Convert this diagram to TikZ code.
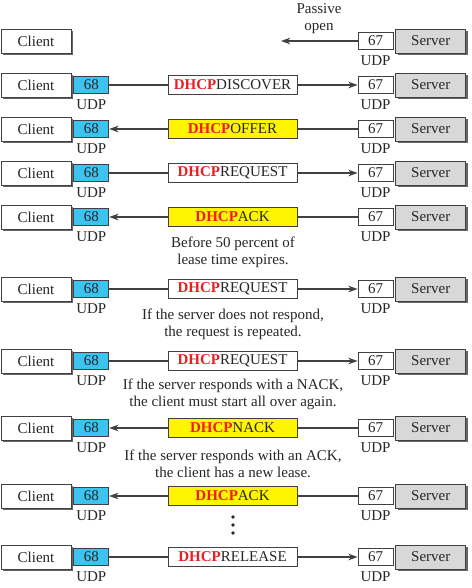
\documentclass[tikz,border=0pt]{standalone}
\usepackage{fontspec}
\setmainfont{Liberation Serif}
\usetikzlibrary{shadows, positioning, arrows.meta}

\definecolor{portBlue}{RGB}{60,195,240}
\definecolor{msgYellow}{RGB}{255,245,0}
\definecolor{srvGray}{RGB}{216,216,216}
\definecolor{dhcpRed}{RGB}{235,30,35}

\begin{document}
\begin{tikzpicture}[
    x=0.75pt, y=-0.75pt,
    font=\fontsize{11.25}{12.75}\selectfont,
    >={Stealth[length=7pt,width=5pt]},
    % --- stiluri ---
    box/.style={
            draw=black!75,
            line width=0.6pt,
            text=black!85,
            inner sep=0pt
        },
    client/.style={
            box,
            fill=white,
            minimum width=52.5pt,
            minimum height=18pt,
            drop shadow={shadow xshift=1.3pt, shadow yshift=-1.3pt, fill=black!60, opacity=1}
        },
    server/.style={client, fill=srvGray},
    port/.style={box, fill=white, minimum width=26.25pt, minimum height=12.75pt},
    port68/.style={port, fill=portBlue},
    msgBox/.style={box, minimum width=96.75pt, minimum height=14.25pt},
    udp/.style={inner sep=0pt, text=black!85},
    note/.style={align=center, text=black!85},
    link/.style={draw=black!75, line width=0.9pt}
    ]

    \useasboundingbox (0,0) rectangle (471,588);

    % 1. Deschidere pasiva pe server
    \node[client] (c1) at (36,41) {Client};
    \node[port] (q1) at (375.5,41) {67};
    \node[server, right=1.5pt of q1] (s1) {Server};
    \node[udp, below=4.5pt of q1] {UDP};
    \coordinate (open) at (281,41);
    \draw[link, ->] (q1) -- (open);
    \node[note] (passive) at (319,19) {Passive\\open};

    % 2. Mesajele DHCP
    \foreach \r/\yy/\kind/\fc/\la/\ra in {
        2/85/DISCOVER/white/-/->,
        3/129/OFFER/msgYellow/<-/-,
        4/173/REQUEST/white/-/->,
        5/217/ACK/msgYellow/<-/-,
        6/289/REQUEST/white/-/->,
        7/361/REQUEST/white/-/->,
        8/428/NACK/msgYellow/<-/-,
        9/496/ACK/msgYellow/<-/-,
        10/557/RELEASE/white/-/->} {
        \node[client] (c\r) at (36,\yy) {Client};
        \node[port68, right=1.5pt of c\r] (p\r) {68};
        \node[udp, below=4.5pt of p\r] {UDP};
        \node[msgBox, fill=\fc] (m\r) at (232.5,\yy) {\textcolor{dhcpRed}{\bfseries DHCP}\kind};
        \node[port] (q\r) at (375.5,\yy) {67};
        \node[server, right=1.5pt of q\r] (s\r) {Server};
        \node[udp, below=4.5pt of q\r] {UDP};
        \draw[link, \la] (p\r) -- (m\r);
        \draw[link, \ra] (m\r) -- (q\r);
    }

    % 3. Note
    \node[note] (lease) at (233,252) {Before 50 percent of\\lease time expires.};
    \node[note] (repeat) at (233,324.5) {If the server does not respond,\\the request is repeated.};
    \node[note] (nack) at (233,394.5) {If the server responds with a NACK,\\the client must start all over again.};
    \node[note] (ack) at (233,464) {If the server responds with an ACK,\\the client has a new lease.};

    % puncte
    \foreach \d in {517,525,533}
        \fill[black!85] (233,\d) circle (1.4pt);

\end{tikzpicture}
\end{document}
